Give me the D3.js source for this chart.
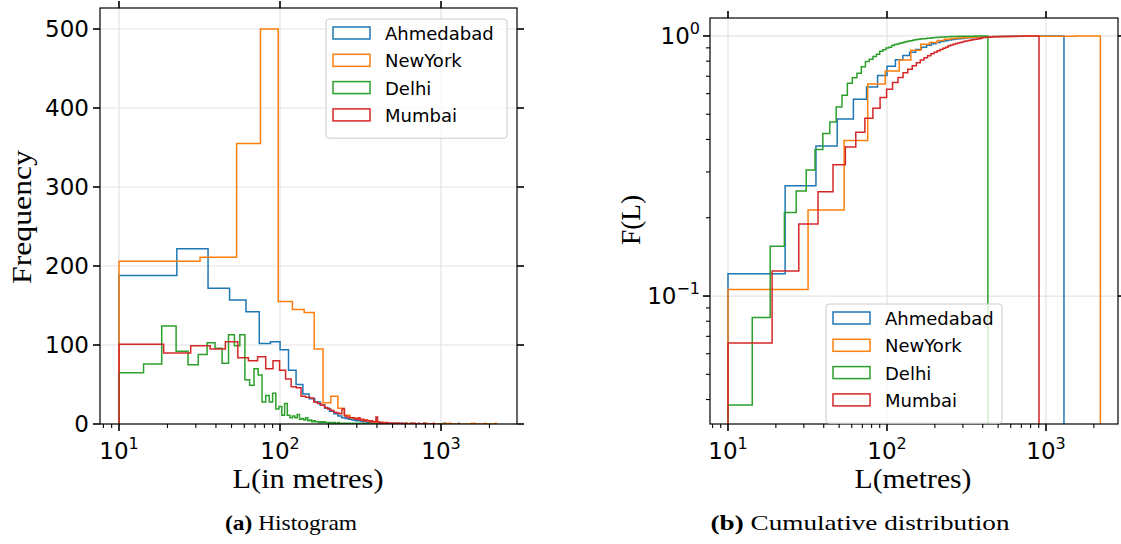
<!DOCTYPE html>
<html>
<head>
<meta charset="utf-8">
<script src="https://cdn.jsdelivr.net/npm/d3@7/dist/d3.min.js"></script>
<style>
  html, body { margin: 0; padding: 0; background: #ffffff; }
  svg { display: block; }
  .tick-label { font-family: "DejaVu Sans", sans-serif; font-size: 23px; fill: #000; }
  .legend-label { font-family: "DejaVu Sans", sans-serif; font-size: 18px; fill: #000; }
  .axis-title { font-family: "Liberation Serif", "DejaVu Serif", serif; font-size: 28px; fill: #000; }
  .caption { font-family: "Liberation Serif", "DejaVu Serif", serif; font-size: 22px; fill: #000; }
</style>
</head>
<body>
<svg id="chart" width="1121" height="544"></svg>
<script>
// Segment lengths (metres) per city: 100 equal-width bins between the min and max length.
const cities = ["Ahmedabad", "NewYork", "Delhi", "Mumbai"];
const colors = ["#1f77b4", "#ff7f0e", "#2ca02c", "#d62728"];
const minLength = [10, 10, 10, 10];
const maxLength = [1297, 2198, 431, 904];

const countsAhmedabad = [
  188, 222, 172, 157, 142, 102, 104, 94, 68, 50,
  38, 32, 28, 24, 20, 16, 13, 10, 8, 7,
  6, 5, 4, 4, 3, 3, 2, 2, 2, 2,
  1, 2, 1, 1, 0, 1, 1, 0, 1, 0,
  1, 0, 0, 1, 0, 0, 1, 0, 0, 0,
  1, 0, 0, 0, 0, 0, 0, 0, 0, 0,
  1, 0, 0, 0, 0, 0, 0, 0, 0, 0,
  0, 0, 0, 0, 0, 0, 0, 0, 0, 0,
  1, 0, 0, 0, 0, 0, 0, 0, 0, 0,
  0, 0, 0, 0, 0, 0, 0, 0, 0, 1
];
const countsNewYork = [
  206, 211, 355, 500, 155, 145, 141, 95, 27, 35,
  20, 11, 8, 6, 5, 4, 3, 2, 2, 2,
  1, 1, 0, 1, 1, 0, 0, 1, 0, 0,
  1, 0, 0, 0, 0, 0, 1, 0, 0, 0,
  0, 0, 0, 0, 0, 0, 0, 0, 1, 0,
  0, 1, 0, 0, 0, 0, 0, 0, 0, 0,
  0, 0, 0, 0, 0, 0, 0, 0, 0, 0,
  1, 0, 0, 1, 0, 0, 0, 0, 0, 0,
  0, 0, 0, 0, 0, 1, 0, 0, 0, 0,
  0, 0, 0, 0, 0, 0, 0, 0, 0, 1
];
const countsDelhi = [
  65, 76, 124, 92, 75, 88, 103, 96, 77, 113,
  99, 113, 56, 49, 70, 62, 28, 36, 28, 39,
  19, 22, 11, 26, 11, 8, 10, 8, 12, 6,
  7, 5, 8, 4, 5, 3, 4, 3, 3, 2,
  3, 2, 3, 2, 2, 1, 2, 2, 1, 2,
  1, 1, 2, 1, 1, 0, 1, 1, 0, 1,
  1, 0, 1, 0, 0, 1, 0, 0, 1, 0,
  0, 1, 0, 0, 0, 0, 1, 0, 0, 0,
  0, 0, 1, 0, 0, 0, 0, 0, 0, 0,
  0, 0, 0, 0, 0, 0, 1, 0, 0, 1
];
const countsMumbai = [
  101, 90, 99, 95, 104, 84, 80, 85, 70, 80,
  68, 57, 47, 46, 35, 34, 33, 28, 26, 24,
  21, 19, 17, 15, 14, 13, 19, 10, 9, 8,
  8, 7, 6, 8, 5, 6, 4, 5, 4, 3,
  4, 3, 3, 9, 3, 2, 1, 2, 1, 1,
  2, 1, 0, 1, 1, 0, 1, 0, 1, 0,
  1, 0, 0, 1, 0, 0, 1, 0, 0, 0,
  0, 1, 0, 0, 0, 1, 0, 0, 0, 0,
  1, 0, 0, 0, 0, 0, 1, 0, 0, 0,
  0, 0, 0, 0, 0, 0, 0, 0, 0, 1
];
const allCounts = [countsAhmedabad, countsNewYork, countsDelhi, countsMumbai];

const histYTicks = [0, 100, 200, 300, 400, 500];
const logXTicks = [10, 100, 1000];
const cdfYTicks = [0.1, 1];

const svg = d3.select("#chart");

// Bin edges for one city (same binning as a 100-bin histogram).
function binEdges(i) {
  const n = allCounts[i].length;
  return d3.range(n + 1).map(k => minLength[i] + (maxLength[i] - minLength[i]) * k / n);
}

// ---------- panel geometry ----------
const left = { x0: 100, x1: 517, y0: 8, y1: 424 };
const right = { x0: 710, x1: 1118, y0: 18, y1: 424 };

const xHist = d3.scaleLog().domain([Math.pow(10, 0.882), Math.pow(10, 3.472)]).range([left.x0, left.x1]);
const yHist = d3.scaleLinear().domain([0, 526.6]).range([left.y1, left.y0]);
const xCdf = d3.scaleLog().domain([Math.pow(10, 0.8868), Math.pow(10, 3.4528)]).range([right.x0, right.x1]);
const yCdf = d3.scaleLog().domain([Math.pow(10, -1.492), Math.pow(10, 0.069)]).range([right.y1, right.y0]);

const defs = svg.append("defs");
defs.append("clipPath").attr("id", "clipL").append("rect")
  .attr("x", left.x0).attr("y", left.y0).attr("width", left.x1 - left.x0).attr("height", left.y1 - left.y0);
defs.append("clipPath").attr("id", "clipR").append("rect")
  .attr("x", right.x0).attr("y", right.y0).attr("width", right.x1 - right.x0).attr("height", right.y1 - right.y0);

const gridColor = "#e3e3e3";

function minorLogTicks(scale) {
  const [a, b] = scale.domain();
  const out = [];
  for (let e = Math.floor(Math.log10(a)); e <= Math.ceil(Math.log10(b)); e++) {
    for (let m = 2; m <= 9; m++) {
      const v = m * Math.pow(10, e);
      if (v >= a && v <= b) out.push(v);
    }
  }
  return out;
}

function powerLabel(sel, exp) {
  sel.append("tspan").text("10");
  sel.append("tspan").attr("dy", -10).style("font-size", "16px")
    .text(exp < 0 ? "\u2212" + Math.abs(exp) : String(exp));
}

// ---------- left panel: histogram ----------
const gL = svg.append("g");

// grid
gL.selectAll(null).data(logXTicks).join("line")
  .attr("x1", d => xHist(d)).attr("x2", d => xHist(d))
  .attr("y1", left.y0).attr("y2", left.y1)
  .attr("stroke", gridColor).attr("stroke-width", 1.2);
gL.selectAll(null).data(histYTicks).join("line")
  .attr("x1", left.x0).attr("x2", left.x1)
  .attr("y1", d => yHist(d)).attr("y2", d => yHist(d))
  .attr("stroke", gridColor).attr("stroke-width", 1.2);

// step outlines
const stepLineL = d3.line().x(d => xHist(d[0])).y(d => yHist(d[1]));
const histG = gL.append("g").attr("clip-path", "url(#clipL)");
cities.forEach((c, i) => {
  const edges = binEdges(i);
  const counts = allCounts[i];
  const pts = [[edges[0], 0]];
  counts.forEach((v, k) => { pts.push([edges[k], v]); pts.push([edges[k + 1], v]); });
  pts.push([edges[edges.length - 1], 0]);
  histG.append("path").attr("d", stepLineL(pts))
    .attr("fill", "none").attr("stroke", colors[i]).attr("stroke-width", 1.5)
    .attr("stroke-linejoin", "miter");
});

// frame
gL.append("rect").attr("x", left.x0).attr("y", left.y0)
  .attr("width", left.x1 - left.x0).attr("height", left.y1 - left.y0)
  .attr("fill", "none").attr("stroke", "#000").attr("stroke-width", 1.2);

// ticks
function drawXTicks(g, scale, box, majors, minors) {
  g.selectAll(null).data(majors).join("line")
    .attr("x1", d => scale(d)).attr("x2", d => scale(d))
    .attr("y1", box.y1).attr("y2", box.y1 + 7).attr("stroke", "#000").attr("stroke-width", 1.6);
  g.selectAll(null).data(majors).join("line")
    .attr("x1", d => scale(d)).attr("x2", d => scale(d))
    .attr("y1", box.y0).attr("y2", box.y0 - 7).attr("stroke", "#000").attr("stroke-width", 1.6);
  g.selectAll(null).data(minors).join("line")
    .attr("x1", d => scale(d)).attr("x2", d => scale(d))
    .attr("y1", box.y1).attr("y2", box.y1 + 4).attr("stroke", "#000").attr("stroke-width", 1.1);
  g.selectAll(null).data(majors).join("text")
    .attr("class", "tick-label")
    .attr("x", d => scale(d)).attr("y", box.y1 + 35)
    .attr("text-anchor", "middle")
    .each(function (d) { powerLabel(d3.select(this), Math.round(Math.log10(d))); });
}

drawXTicks(gL, xHist, left, logXTicks, minorLogTicks(xHist));

gL.selectAll(null).data(histYTicks).join("line")
  .attr("x1", left.x0 - 7).attr("x2", left.x0)
  .attr("y1", d => yHist(d)).attr("y2", d => yHist(d)).attr("stroke", "#000").attr("stroke-width", 1.6);
gL.selectAll(null).data(histYTicks).join("line")
  .attr("x1", left.x1).attr("x2", left.x1 + 7)
  .attr("y1", d => yHist(d)).attr("y2", d => yHist(d)).attr("stroke", "#000").attr("stroke-width", 1.6);
gL.selectAll(null).data(histYTicks).join("text")
  .attr("class", "tick-label")
  .attr("x", left.x0 - 11).attr("y", d => yHist(d) + 8)
  .attr("text-anchor", "end").text(d => d);

// axis titles
gL.append("text").attr("class", "axis-title")
  .attr("transform", `translate(31,217) rotate(-90)`)
  .attr("text-anchor", "middle")
  .attr("textLength", 134).attr("lengthAdjust", "spacingAndGlyphs")
  .text("Frequency");
gL.append("text").attr("class", "axis-title")
  .attr("x", 308).attr("y", 488)
  .attr("text-anchor", "middle")
  .attr("textLength", 151).attr("lengthAdjust", "spacingAndGlyphs")
  .text("L(in metres)");

// ---------- right panel: cumulative distribution ----------
const gR = svg.append("g");
gR.selectAll(null).data(logXTicks).join("line")
  .attr("x1", d => xCdf(d)).attr("x2", d => xCdf(d))
  .attr("y1", right.y0).attr("y2", right.y1)
  .attr("stroke", gridColor).attr("stroke-width", 1.2);
gR.selectAll(null).data(cdfYTicks).join("line")
  .attr("x1", right.x0).attr("x2", right.x1)
  .attr("y1", d => yCdf(d)).attr("y2", d => yCdf(d))
  .attr("stroke", gridColor).attr("stroke-width", 1.2);

const stepLineR = d3.line().x(d => xCdf(d[0])).y(d => yCdf(d[1]));
const cdfG = gR.append("g").attr("clip-path", "url(#clipR)");
const floorVal = yCdf.domain()[0];
cities.forEach((c, i) => {
  const edges = binEdges(i);
  const counts = allCounts[i];
  const total = d3.sum(counts);
  const cum = d3.cumsum(counts);
  const pts = [[edges[0], floorVal]];
  cum.forEach((v, k) => { pts.push([edges[k], v / total]); pts.push([edges[k + 1], v / total]); });
  pts.push([edges[edges.length - 1], floorVal]);
  cdfG.append("path").attr("d", stepLineR(pts))
    .attr("fill", "none").attr("stroke", colors[i]).attr("stroke-width", 1.5);
});

gR.append("rect").attr("x", right.x0).attr("y", right.y0)
  .attr("width", right.x1 - right.x0).attr("height", right.y1 - right.y0)
  .attr("fill", "none").attr("stroke", "#000").attr("stroke-width", 1.2);

drawXTicks(gR, xCdf, right, logXTicks, minorLogTicks(xCdf));

gR.selectAll(null).data(cdfYTicks).join("line")
  .attr("x1", right.x0 - 7).attr("x2", right.x0)
  .attr("y1", d => yCdf(d)).attr("y2", d => yCdf(d)).attr("stroke", "#000").attr("stroke-width", 1.6);
gR.selectAll(null).data(cdfYTicks).join("line")
  .attr("x1", right.x1).attr("x2", right.x1 + 7)
  .attr("y1", d => yCdf(d)).attr("y2", d => yCdf(d)).attr("stroke", "#000").attr("stroke-width", 1.6);
gR.selectAll(null).data(minorLogTicks(yCdf)).join("line")
  .attr("x1", right.x0 - 4).attr("x2", right.x0)
  .attr("y1", d => yCdf(d)).attr("y2", d => yCdf(d)).attr("stroke", "#000").attr("stroke-width", 1.1);
gR.selectAll(null).data(cdfYTicks).join("text")
  .attr("class", "tick-label")
  .attr("x", right.x0 - 10).attr("y", d => yCdf(d) + 8)
  .attr("text-anchor", "end")
  .each(function (d) { powerLabel(d3.select(this), Math.round(Math.log10(d))); });

gR.append("text").attr("class", "axis-title")
  .attr("transform", `translate(640,220) rotate(-90)`)
  .attr("text-anchor", "middle")
  .attr("textLength", 50).attr("lengthAdjust", "spacingAndGlyphs")
  .text("F(L)");
gR.append("text").attr("class", "axis-title")
  .attr("x", 913).attr("y", 488)
  .attr("text-anchor", "middle")
  .attr("textLength", 117).attr("lengthAdjust", "spacingAndGlyphs")
  .text("L(metres)");

// ---------- legends ----------
function legend(g, x, y, w, rowH) {
  const h = rowH * cities.length + 10;
  g.append("rect").attr("x", x).attr("y", y).attr("width", w).attr("height", h)
    .attr("rx", 3).attr("fill", "rgba(255,255,255,0.8)").attr("stroke", "#cccccc").attr("stroke-width", 1);
  cities.forEach((c, i) => {
    const cy = y + 8 + rowH * i;
    g.append("rect").attr("x", x + 7).attr("y", cy).attr("width", 37).attr("height", 12)
      .attr("fill", "none").attr("stroke", colors[i]).attr("stroke-width", 1.5);
    g.append("text").attr("class", "legend-label")
      .attr("x", x + 59).attr("y", cy + 13).text(c);
  });
}
legend(svg.append("g"), 326, 19, 181, 27.3);
legend(svg.append("g"), 826, 304, 176, 27.3);

// ---------- captions ----------
const capA = svg.append("text").attr("class", "caption").attr("x", 291).attr("y", 530)
  .attr("text-anchor", "middle")
  .attr("textLength", 132).attr("lengthAdjust", "spacingAndGlyphs");
capA.append("tspan").style("font-weight", "bold").text("(a)");
capA.append("tspan").text(" Histogram");
const capB = svg.append("text").attr("class", "caption").attr("x", 860).attr("y", 530)
  .attr("text-anchor", "middle")
  .attr("textLength", 299).attr("lengthAdjust", "spacingAndGlyphs");
capB.append("tspan").style("font-weight", "bold").text("(b)");
capB.append("tspan").text(" Cumulative distribution");
</script>
</body>
</html>
